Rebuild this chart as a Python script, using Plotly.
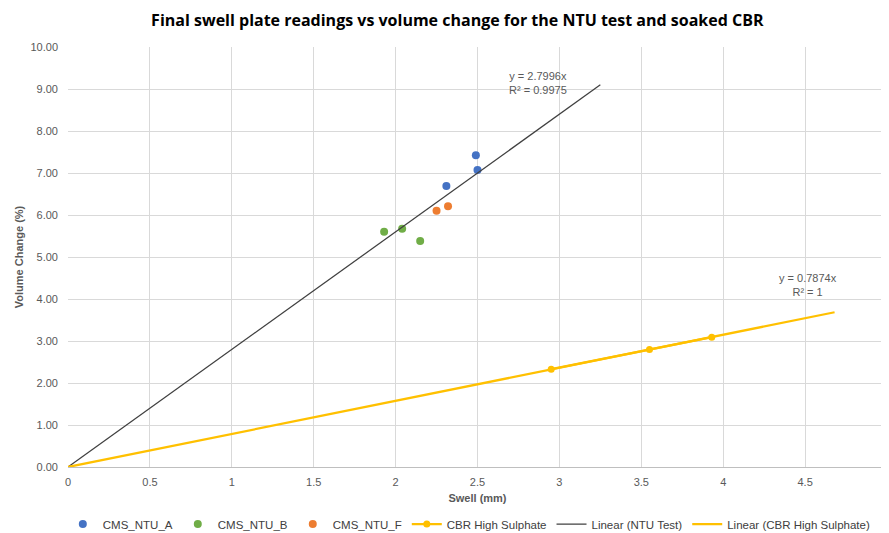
import plotly.graph_objects as go
import numpy as np

# Data
a_swell = [2.49, 2.50, 2.31]
a_vol = [7.42, 7.07, 6.69]
b_swell = [1.93, 2.04, 2.15]
b_vol = [5.60, 5.67, 5.38]
f_swell = [2.25, 2.32]
f_vol = [6.10, 6.21]
cbr_swell = [2.95, 3.55, 3.93]
cbr_vol = [2.33, 2.80, 3.09]

ntu_slope = 2.7996
ntu_r2 = 0.9975
cbr_slope = 0.7874
cbr_r2 = 1
forecast = 0.75

font = "Liberation Sans Narrow, Liberation Sans, Arial"
grey = "#595959"

fig = go.Figure()
mk = dict(size=8)
fig.add_trace(go.Scatter(x=a_swell, y=a_vol, mode="markers", name="CMS_NTU_A",
                         marker=dict(color="#4472C4", **mk)))
fig.add_trace(go.Scatter(x=b_swell, y=b_vol, mode="markers", name="CMS_NTU_B",
                         marker=dict(color="#70AD47", **mk)))
fig.add_trace(go.Scatter(x=f_swell, y=f_vol, mode="markers", name="CMS_NTU_F",
                         marker=dict(color="#ED7D31", **mk)))
fig.add_trace(go.Scatter(x=cbr_swell, y=cbr_vol, mode="lines+markers", name="CBR High Sulphate",
                         line=dict(color="#FFC000", width=2.25), marker=dict(color="#FFC000", size=7)))

ntu_x = np.array([0, max(a_swell + b_swell + f_swell) + forecast])
fig.add_trace(go.Scatter(x=ntu_x, y=ntu_slope * ntu_x, mode="lines", name="Linear (NTU Test)",
                         line=dict(color="#404040", width=1.25)))
cbr_x = np.array([0, max(cbr_swell) + forecast])
fig.add_trace(go.Scatter(x=cbr_x, y=cbr_slope * cbr_x, mode="lines", name="Linear (CBR High Sulphate)",
                         line=dict(color="#FFC000", width=2.25)))

fig.add_annotation(x=2.87, y=9.14, text=f"y = {ntu_slope}x<br>R² = {ntu_r2}", showarrow=False,
                   font=dict(family=font, size=11, color=grey), align="center")
fig.add_annotation(x=4.52, y=4.33, text=f"y = {cbr_slope}x<br>R² = {cbr_r2}", showarrow=False,
                   font=dict(family=font, size=11, color=grey), align="center")

fig.update_layout(
    width=881, height=525,
    margin=dict(l=60, r=2, t=39, b=66),
    paper_bgcolor="white", plot_bgcolor="white",
    font=dict(family=font, size=11, color=grey),
    title=dict(text="<b>Final swell plate readings vs volume change for the NTU test and soaked CBR</b>",
               x=0.51, xanchor="center", y=0.977, yanchor="middle",
               font=dict(family="Open Sans, Liberation Sans", size=16, color="#000000")),
    xaxis=dict(range=[0, 5], dtick=0.5, tick0=0, showgrid=True, gridcolor="#d9d9d9",
               showline=True, linecolor="#bfbfbf", zeroline=False, ticks="", automargin=False,
               ticklabelstandoff=5, ticklabeloverflow="allow",
               tickfont=dict(family=font, size=11, color=grey),
               title=dict(text="<b>Swell (mm)</b>", font=dict(family=font, size=11, color=grey), standoff=7)),
    yaxis=dict(range=[0, 10], dtick=1, tickformat=".2f", showgrid=True, gridcolor="#d9d9d9",
               showline=False, zeroline=False, ticks="", automargin=False,
               ticklabelstandoff=9,
               tickfont=dict(family=font, size=11, color=grey),
               title=dict(text="<b>Volume Change (%)</b>", font=dict(family=font, size=11, color=grey), standoff=4)),
    legend=dict(orientation="h", x=0.49, xanchor="center", yref="container", y=0.017, yanchor="middle",
                font=dict(family=font, size=11.5, color="#404040"), itemwidth=30,
                bgcolor="rgba(0,0,0,0)"),
)

fig.write_html("out.html")
